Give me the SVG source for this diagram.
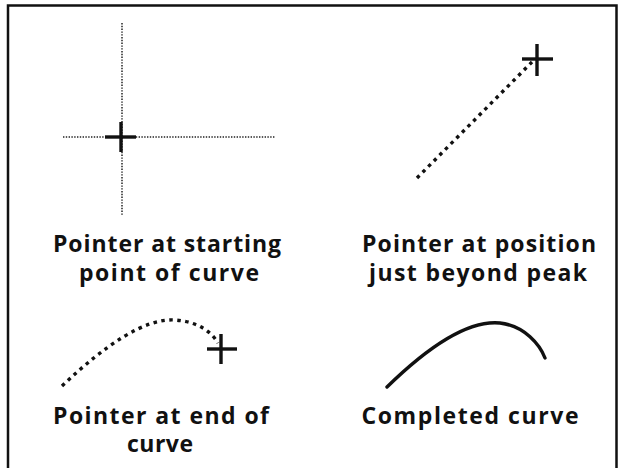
<svg xmlns="http://www.w3.org/2000/svg" width="619" height="468" viewBox="0 0 619 468">
<style>
.frame{fill:none;stroke:#111;stroke-width:2.5}
.guide{fill:none;stroke:#222;stroke-width:1.5;stroke-dasharray:1.4 1.4}
.cross{fill:none;stroke:#111;stroke-width:3.4}
.trail{fill:none;stroke:#111;stroke-width:3.4;stroke-dasharray:3.5 4.5}
.curve{fill:none;stroke:#111;stroke-width:3.4;stroke-linecap:round}
.lbl{font-family:"Open Sans","Liberation Sans",sans-serif;font-weight:bold;font-size:23px;fill:#111;text-anchor:middle}
</style>
<rect width="619" height="468" fill="#fff"/>
<path class="frame" d="M8,468 V5.5 H616.5 V468"/>
<g id="panel-start">
<line class="guide" x1="122" y1="23" x2="122" y2="216"/>
<line class="guide" x1="63" y1="137" x2="275" y2="137"/>
<line class="cross" x1="105" y1="137" x2="136" y2="137"/>
<line class="cross" x1="121" y1="122" x2="121" y2="152"/>
<text class="lbl" x="167" y="252" textLength="228" lengthAdjust="spacing">Pointer at starting</text>
<text class="lbl" x="169" y="281" textLength="180" lengthAdjust="spacing">point of curve</text>
</g>
<g id="panel-beyond">
<line class="trail" x1="417" y1="178" x2="532" y2="62"/>
<line class="cross" x1="522" y1="59" x2="553" y2="59"/>
<line class="cross" x1="537" y1="44" x2="537" y2="76"/>
<text class="lbl" x="479" y="252" textLength="234" lengthAdjust="spacing">Pointer at position</text>
<text class="lbl" x="478" y="281" textLength="218" lengthAdjust="spacing">just beyond peak</text>
</g>
<g id="panel-end">
<path class="trail" d="M62,386 C105,345 145,318 175,320 C200,322 212,333 218,343"/>
<line class="cross" x1="207" y1="349" x2="237" y2="349"/>
<line class="cross" x1="221" y1="334" x2="221" y2="364"/>
<text class="lbl" x="161" y="424" textLength="216" lengthAdjust="spacing">Pointer at end of</text>
<text class="lbl" x="160" y="452" textLength="66" lengthAdjust="spacing">curve</text>
</g>
<g id="panel-complete">
<path class="curve" d="M387,387 C430,345 470,320 500,323 C525,326 540,345 545,358"/>
<text class="lbl" x="470" y="424" textLength="217" lengthAdjust="spacing">Completed curve</text>
</g>
<g id="connectors"></g>
</svg>
